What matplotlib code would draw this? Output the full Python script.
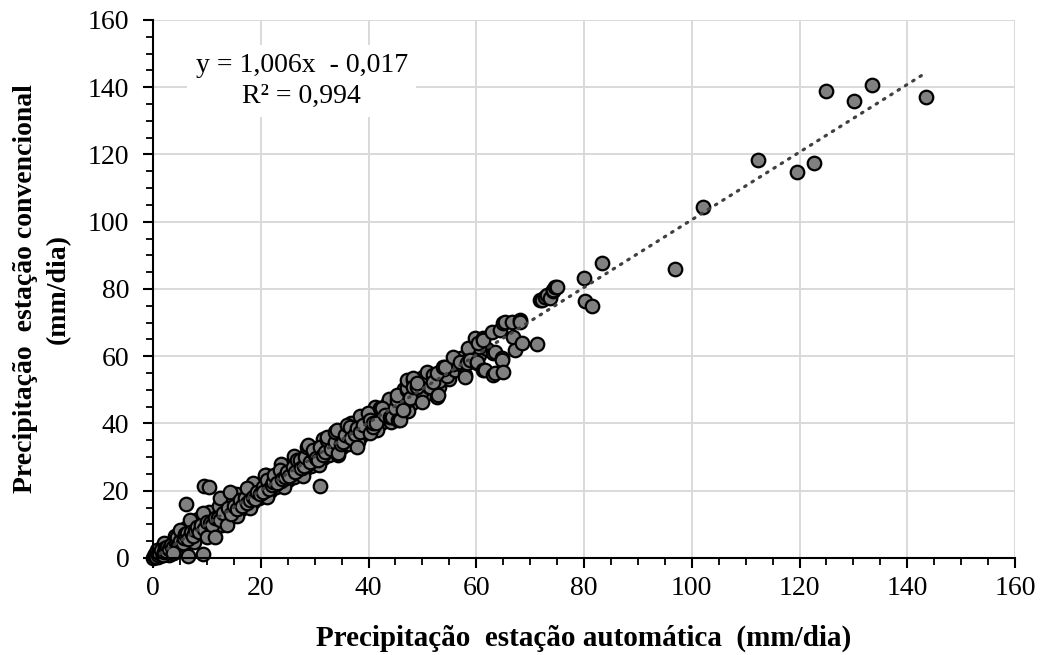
import matplotlib
matplotlib.use("Agg")
import matplotlib.pyplot as plt
from matplotlib.ticker import MultipleLocator

plt.rcParams['font.family'] = ['Liberation Serif', 'DejaVu Serif']

# --- data (automatic station x, conventional station y), mm/day ---
scatter_main = [
    (0,0),(0.2,0.5),(0.4,1.2),(0.6,0.2),(0.8,2.5),(1.0,0.8),(1.2,1.5),(1.5,2.4),(1.8,0.9),(2.0,1.8),
    (2.2,3.0),(2.5,2.2),(2.6,3.3),(3.0,2.6),(3.3,3.8),(3.7,1.5),(3.8,3.2),(4.2,4.5),(4.5,6.2),(4.6,3.8),
    (5.0,5.2),(5.0,8.3),(5.5,4.6),(5.8,6.0),(6.0,7.2),(6.3,7.4),(6.5,5.6),(6.9,11.3),(7.0,7.8),(7.4,6.5),
    (7.8,8.4),(8.2,9.2),(8.5,7.6),(9.0,9.8),(9.3,13.4),(9.5,8.6),(10,6.2),(10,10.8),(10.6,10.4),(11,9.8),
    (11.5,6.2),(11.5,12),(12.1,11.9),(12.4,17.8),(12.5,11.2),(13,13.5),(13.7,9.8),(13.9,14.9),(14.3,19.6),
    (14.5,13.2),(15,15.6),(15.5,14.5),(16.1,17.2),(16.5,15.4),(17,17.8),(17.4,20.8),(17.5,16.5),(18,17.2),
    (18.5,18.2),(19,17.6),(19.3,19.6),(19.8,19.0),(20.4,21.1),(20.8,24.7),(20.5,19.6),(21.2,23.2),
    (21.5,20.5),(22,21.8),(22.3,22.6),(22.5,24.7),(23,22.4),(23.6,26.2),(24,23.5),(24.5,24.0),(24.9,25.6),
    (25.2,24.4),(26,27),(26.3,25.5),(26.7,29.1),(27.3,29.1),(27.5,26.8),(28,27.5),(28.2,30),(28.6,33),
    (28.8,33.6),(29.2,28.5),(29.7,31.5),(29.7,32.1),(30.2,29.6),(30.6,29.1),(31,33),(31,21.4),(31.6,30.6),
    (32,31.5),(32.3,35.1),(32.3,36),(33,32.4),(33.8,34.5),(33.8,37.5),(34.2,38.1),(34.3,31.2),(34.8,33.8),
    (35.2,34.5),(35.6,36.6),(36,39.6),(36.6,39),(36.8,35.8),(37.5,37),(37.9,38.7),(37.9,33),(38.5,37.6),
    (39,39.5),(39.9,43.1),(40.3,41),(40.3,37.2),(40.8,39),(40.8,40.1),(41.3,40.2),(42.1,44.6),(42.5,44.6),
    (43,42.5),(44,41.9),(44.4,41.9),(45,44.5),(45.3,47),(45.3,48.5),(45.5,41),(45.8,41),(46.4,44),
    (47.1,50),(47.1,50.6),(47.1,52.9),(47.7,47.6),(48.3,52.9),(48.3,53.5),(48.3,50.9),(49,50.9),(49,52),
    (49.9,46.4),(50.9,55.3),(51.5,51),(52,54.4),(52,52.3),(52.7,55),(52.7,47.9),(52.9,48.5),(53.8,56.8),
    (54.2,56.8),(55.7,59.8),(57,58.3),(57.9,54.4),(57.9,53.8),(58.3,58),(58.5,62.5),(58.8,58.9),
    (59.8,65.4),(60.1,58),(60.1,58.3),(60.3,63.9),(61.3,65.4),(61.3,64.8),(61.3,55.9),(61.6,55.9),
    (62.9,67.2),(63.1,61),(63.1,54.4),(63.5,61.3),(63.5,55),(64.4,67.8),(64.8,59.5),(64.8,58.9),(65,69.9),
    (65,55.3),(65.3,70.2),(66.6,70.2),(66.8,65.7),(67.2,61.9),(68.1,70.8),(68.1,70.2),(68.5,63.9),
    (71.3,63.5),(71.8,76.7),(72.2,76.7),(72.8,77.6),(73.1,78.2),(73.7,77.3),(74.2,79.4),(74.2,79.7),
    (74.6,80.6),(75,80.6),(80,83.3),(80.2,76.4),(81.5,74.8),(83.3,87.7),(96.8,86),(102,104.3),
    (112.3,118.4),(119.5,114.9),(122.7,117.5),(124.9,138.9),(130.1,135.9),(133.5,140.7),(143.5,137.1),
    (6.1,16.1),(9.5,21.5),(10.3,21),(9.3,1.2),(6.5,0.7),(3.7,1.5),
]
scatter_diag = [
    (0.3,0.3),(0.7,0.6),(1.1,1.0),(1.6,1.5),(2.1,2.0),(2.7,2.6),(3.2,3.1),(3.6,3.5),(4.1,3.9),(4.8,4.6),
    (5.3,5.0),(5.9,5.7),(6.4,6.1),(7.1,6.8),(7.6,7.3),(8.3,8.0),(8.8,8.5),(9.6,9.2),(10.3,9.9),(11.2,10.7),
    (11.8,11.4),(12.7,12.2),(13.4,12.9),(14.1,13.6),(14.8,14.2),(15.7,15.1),(16.4,15.8),(17.2,16.6),
    (18.2,17.5),(19.1,18.4),(20.0,19.3),(21.0,20.2),(21.9,21.1),(22.8,22.0),(23.7,22.9),(24.6,23.7),
    (25.6,24.8),(26.6,25.8),(27.6,26.9),(28.5,27.8),(29.5,28.8),(30.5,29.9),(31.5,31.0),(32.5,32.0),
    (33.5,33.0),(34.6,34.0),(35.6,35.0),(36.6,36.1),(37.7,37.2),(38.8,38.2),(39.8,39.2),(41.0,40.6),
    (42.2,41.8),(43.5,43.2),(44.8,44.5),(46.0,45.8),(47.3,47.0),(48.6,48.2),(50.0,49.6),(51.2,50.8),
    (53.0,52.5),(54.5,54.0),(56.0,55.8),(57.5,57.2),(59.0,59.0),(60.5,60.5),(62.0,62.3),
]
scatter_upper = [
    (1.3,2.0),(2.3,3.5),(3.4,4.6),(4.3,5.6),(5.4,6.9),(6.6,8.0),(7.3,9.4),(8.0,10.1),(8.9,11.2),(9.8,12.0),
    (10.8,12.8),(11.8,13.9),(12.9,15.1),(13.6,16.2),(14.9,17.1),(15.9,18.3),(16.9,19.2),(18.1,20.5),
    (19.4,21.6),(20.7,22.5),(21.8,23.9),(23.1,24.9),(24.3,26.4),(25.5,27.6),(26.9,28.6),(28.0,29.9),
    (29.3,31.3),(30.5,32.6),(31.8,33.9),(33.0,35.1),(34.6,36.9),(36.2,38.0),(37.6,39.8),(39.2,41.2),
    (40.6,42.9),(42.0,44.2),(43.4,45.9),(44.8,46.5),(46.2,48.4),(47.8,49.7),(49.4,51.3),(50.8,52.7),
    (52.4,54.5),(54.0,56.2),(55.6,57.7),(57.2,59.4),(58.8,61.0),(60.5,62.6),
    (2.0,4.4),(4.0,6.6),(6.2,9.0),(8.4,11.6),(10.4,13.8),(12.2,15.6),(15.4,19.0),(18.6,22.4),
    (21.0,24.6),(23.8,27.9),(26.2,30.4),(29.0,32.9),(31.6,35.4),(34.0,37.9),(36.8,40.1),(38.4,42.3),
    (41.2,44.9),(43.8,47.4),(46.6,50.2),(50.2,53.9),
]
scatter_lower = [
    (0.9,0.3),(1.9,1.0),(2.9,1.9),(3.9,2.9),(4.9,3.8),(5.9,4.6),(6.9,5.6),(7.9,6.5),(8.9,7.5),(9.9,8.4),
    (11.0,9.3),(12.0,10.3),(13.1,11.4),(14.2,12.4),(15.2,13.4),(16.3,14.6),(17.4,15.6),(18.5,16.7),
    (19.6,17.8),(20.7,18.9),(21.8,19.9),(22.9,21.0),(24.0,22.1),(25.0,23.1),(26.1,24.2),(27.2,25.3),
    (28.3,26.4),(29.4,27.4),(30.5,28.6),(31.6,29.6),(32.7,30.6),(33.8,31.8),(35.0,33.0),(36.2,34.0),
    (37.4,35.3),(38.6,36.4),(39.8,37.6),(41.0,38.8),(42.3,40.1),(43.6,41.4),(45.0,43.0),(46.5,44.6),
    (48.0,46.2),(49.5,47.8),(51.0,49.2),(53.0,51.0),(55.0,53.2),
    (3.0,1.0),(5.2,2.8),(7.6,4.9),(10.2,7.4),(12.8,9.9),(15.6,12.6),(18.0,15.0),(21.2,18.0),
    (24.4,21.0),(27.8,24.4),(30.9,27.6),(34.4,30.6),(38.0,34.4),(41.6,38.0),(44.2,40.4),(47.4,43.6),
]

trend_slope = 1.006
trend_intercept = -0.017
trend_x_range = [0, 143.5]
equation_lines = ["y = 1,006x  - 0,017", "R² = 0,994"]
x_label = "Precipitação  estação automática  (mm/dia)"
y_label = "Precipitação  estação convencional\n(mm/dia)"

points = scatter_lower + scatter_diag + scatter_upper + scatter_main
xs = [p[0] for p in points]
ys = [p[1] for p in points]

fig = plt.figure(figsize=(10.43, 6.55), dpi=100)
ax = fig.add_axes([0.1467, 0.1481, 0.8265, 0.8214])

ax.set_xlim(0, 160)
ax.set_ylim(0, 160)
ax.xaxis.set_major_locator(MultipleLocator(20))
ax.yaxis.set_major_locator(MultipleLocator(20))
ax.xaxis.set_minor_locator(MultipleLocator(5))
ax.yaxis.set_minor_locator(MultipleLocator(5))
ax.grid(True, which='major', color='#d9d9d9', linewidth=1.4, zorder=0)
ax.set_axisbelow(True)

ax.scatter(xs, ys, s=95, facecolor='#808080', edgecolor='black', linewidth=1.6, zorder=3, clip_on=False)

tx = trend_x_range
ty = [trend_slope * v + trend_intercept for v in tx]
ax.plot(tx, ty, color='#404040', linewidth=2.3, linestyle=(0, (0.5, 2.2)),
        dash_capstyle='round', zorder=4)

for side in ['top', 'right']:
    ax.spines[side].set_visible(False)
for side in ['left', 'bottom']:
    ax.spines[side].set_linewidth(1.5)
    ax.spines[side].set_zorder(5)

ax.tick_params(which='major', direction='out', length=7, width=1.5, labelsize=20)
ax.tick_params(axis='x', which='major', pad=6)
ax.tick_params(axis='y', which='major', pad=10)
ax.tick_params(which='minor', direction='out', length=5, width=1.3)

ax.text(27.6, 141.8, "\n".join(equation_lines), ha='center', va='center', fontsize=20,
        linespacing=1.3, zorder=6,
        bbox=dict(boxstyle='square,pad=0.3', facecolor='white', edgecolor='none'))

ax.set_xlabel(x_label, fontsize=21, fontweight='bold', labelpad=17)
ax.set_ylabel(y_label, fontsize=20, fontweight='bold', labelpad=12, linespacing=1.45)

fig.savefig("out.png", dpi=100)
